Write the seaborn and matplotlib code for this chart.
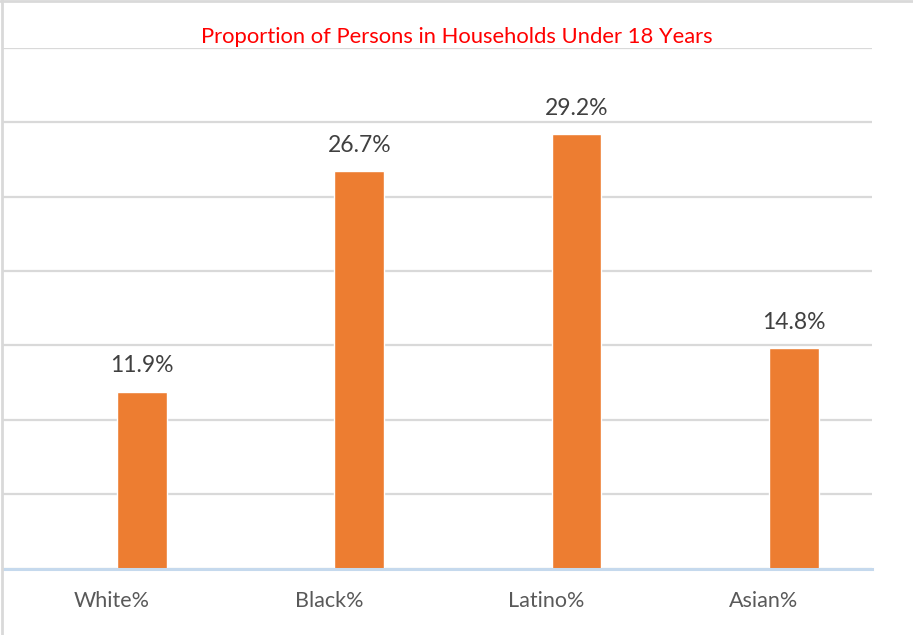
import matplotlib
matplotlib.use("Agg")
import matplotlib.pyplot as plt
from matplotlib.lines import Line2D
import seaborn as sns
import pandas as pd

# Share of persons living in households, by group (percent)
groups = ["White%", "Black%", "Latino%", "Asian%"]
values = [11.9, 26.7, 29.2, 14.8]
value_labels = ["11.9%", "26.7%", "29.2%", "14.8%"]
y_ticks = [0, 5, 10, 15, 20, 25, 30, 35]

df = pd.DataFrame({"group": groups, "value": values})

sns.set_theme(style="white")
plt.rcParams["font.family"] = ["Lato", "DejaVu Sans"]

BAR = "#ED7D31"
GRID = "#D9D9D9"

fig = plt.figure(figsize=(9.13, 6.35), dpi=100)
ax = fig.add_axes([0.0033, 0.1047, 0.9517, 0.8197])

sns.barplot(data=df, x="group", y="value", color=BAR, width=0.23,
            saturation=1, ax=ax)

ax.set_ylim(0, 35)
ax.set_xlim(-0.64, 3.36)
ax.set_yticks(y_ticks)
ax.yaxis.grid(True, color=GRID, linewidth=1.6)
ax.set_axisbelow(True)
ax.tick_params(axis="y", left=False, labelleft=False)
for s in ["top", "right", "left"]:
    ax.spines[s].set_visible(False)
ax.spines["bottom"].set_color("#C5D9ED")
ax.spines["bottom"].set_linewidth(2.2)

# category names sit at the centre of each slot, left of the bars
ax.set_xticks([i - 0.14 for i in range(len(groups))])
ax.set_xticklabels(groups, fontsize=15.5, color="#595959")
ax.tick_params(axis="x", bottom=False, pad=10.5)
ax.set_xlabel("")
ax.set_ylabel("")

for i, (v, lab) in enumerate(zip(values, value_labels)):
    ax.annotate(lab, (i, v), xytext=(0, 11), textcoords="offset points",
                ha="center", va="bottom", fontsize=16.5, color="#404040")

fig.text(0.5, 1 - 37 / 635, "Proportion of Persons in Households Under 18 Years",
         ha="center", va="center", fontsize=15.8, color="#FF0000")

# chart border
fig.add_artist(Line2D([0.0025, 0.0025], [0, 1], transform=fig.transFigure,
                      color=GRID, linewidth=2))
fig.add_artist(Line2D([0, 1], [0.999, 0.999], transform=fig.transFigure,
                      color=GRID, linewidth=2))

fig.savefig("out.png", dpi=100, facecolor="white")
